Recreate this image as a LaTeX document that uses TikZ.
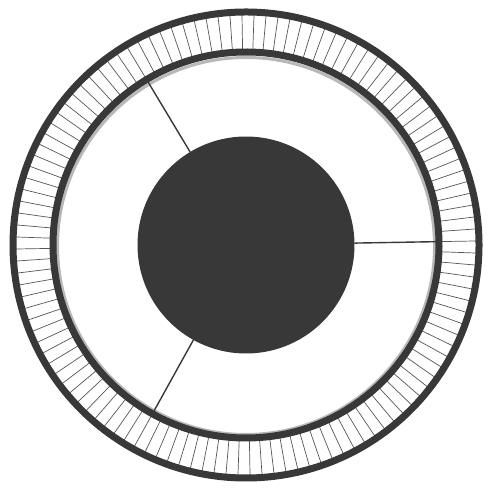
\documentclass[tikz,border=0pt]{standalone}
\usepackage{xcolor}
\usepackage{tikz}

\definecolor{wheeldark}{HTML}{383838}
\definecolor{wheelhalo}{HTML}{B8B8B8}

\begin{document}
\begin{tikzpicture}[x = 1pt, y = 1pt]
\def\outerR{233}
\def\innerR{193}
\def\haloR{188.5}
\def\hubR{108.5}
\def\tilt{1}

\useasboundingbox (0, 0) rectangle (492, 492);

\begin{scope}[shift = {(246, 247)}, rotate = \tilt]
% spokes
\foreach \a in {0, 3, ..., 357}
  \draw [wheeldark!85!white, line width = 0.7] (\a:\innerR) -- (\a:\outerR);

% rims
\draw [wheelhalo, line width = 3] (0, -1) circle (\haloR);
\draw [wheeldark, line width = 7] (0, 0) circle (\innerR);
\draw [wheeldark, line width = 7] (0, 0) circle (\outerR);

% hub and arms
\fill [wheeldark] (0, 0) circle (\hubR);
\foreach \a in {0, 120, 240}
  \draw [wheeldark, line width = 1.4] (\a:\hubR) -- (\a:\innerR);
\end{scope}
\end{tikzpicture}
\end{document}
